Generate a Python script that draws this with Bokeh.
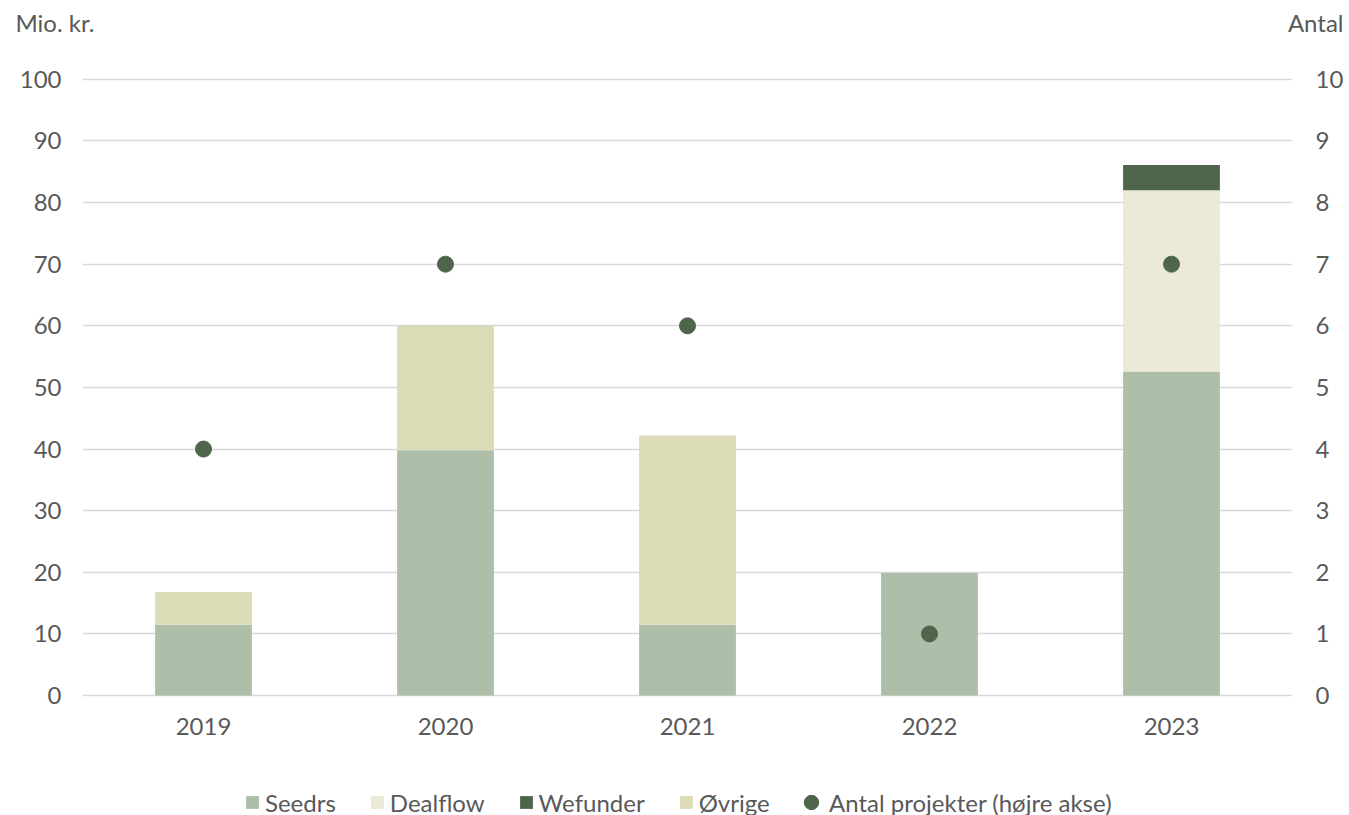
from bokeh.plotting import figure
from bokeh.models import Range1d, LinearAxis, Legend, LegendItem, Label, FactorRange, ColumnDataSource, FixedTicker
from bokeh.embed import file_html
from bokeh.resources import INLINE

years = ["2019", "2020", "2021", "2022", "2023"]
seedrs = [11.5, 39.8, 11.5, 19.9, 52.6]
dealflow = [0, 0, 0, 0, 29.4]
wefunder = [0, 0, 0, 0, 4.1]
ovrige = [5.3, 20.2, 30.7, 0, 0]
projekter = [4, 7, 6, 1, 7]
left_ticks = [0, 10, 20, 30, 40, 50, 60, 70, 80, 90, 100]
right_ticks = [0, 1, 2, 3, 4, 5, 6, 7, 8, 9, 10]

series_names = ["Seedrs", "Dealflow", "Wefunder", "Øvrige"]
colors = ["#adbfa8", "#eaead6", "#4f654b", "#dbdbb7"]
dot_color = "#4f654b"
txt = "#595959"
FONT = "Lato"
FS = "24px"

src = ColumnDataSource(dict(year=years, Seedrs=seedrs, Dealflow=dealflow, Wefunder=wefunder,
                            Øvrige=ovrige, proj=projekter))

# frame extends below the axis so the legend sits inside it
p = figure(frame_width=1210, frame_height=738, x_range=FactorRange(*years, range_padding=0),
           y_range=Range1d(-19.47, 100.3), output_backend="svg", toolbar_location=None,
           min_border_left=82, min_border_right=57, min_border_top=77, min_border_bottom=0)
p.extra_y_ranges = {"antal": Range1d(-1.947, 10.03)}

stack = p.vbar_stack(series_names, x="year", width=0.4, color=colors, source=src, line_width=0)
pts = p.scatter(x="year", y="proj", y_range_name="antal", size=16, color=dot_color, source=src)

right = LinearAxis(y_range_name="antal", ticker=FixedTicker(ticks=right_ticks))
p.add_layout(right, "right")
p.yaxis[0].ticker = FixedTicker(ticks=left_ticks)
p.xaxis.fixed_location = 0

for ax in p.yaxis + p.xaxis:
    ax.axis_line_color = None
    ax.major_tick_line_color = None
    ax.minor_tick_line_color = None
    ax.major_tick_out = 0
    ax.major_tick_in = 0
    ax.major_label_text_font = FONT
    ax.major_label_text_font_size = FS
    ax.major_label_text_color = txt
p.yaxis[0].major_label_standoff = 21
right.major_label_standoff = 23
p.xaxis.major_label_standoff = 22

p.xgrid.grid_line_color = None
p.ygrid.grid_line_color = "#d9d9d9"
p.ygrid.grid_line_width = 1.3
p.outline_line_color = None

common = dict(orientation="horizontal", label_text_font=FONT, label_text_font_size=FS,
              label_text_color=txt, border_line_color=None, background_fill_alpha=0,
              margin=0, padding=0, label_height=36)
legend1 = Legend(items=[LegendItem(label=n, renderers=[r]) for n, r in zip(series_names, stack)],
                 location=(162, -5), glyph_width=16, glyph_height=16, label_standoff=5,
                 spacing=33, **common)
legend2 = Legend(items=[LegendItem(label="Antal projekter (højre akse)", renderers=[pts])],
                 location=(711, -5), glyph_width=36, glyph_height=36, label_standoff=0,
                 **common)
p.add_layout(legend1, "center")
p.add_layout(legend2, "center")

p.add_layout(Label(x=-67, y=55, x_units="screen", y_units="screen", text="Mio. kr.",
                   text_baseline="alphabetic", text_font=FONT, text_font_size=FS, text_color=txt),
             "above")
p.add_layout(Label(x=1261, y=26, x_units="screen", y_units="screen", text="Antal",
                   text_align="right", text_baseline="alphabetic",
                   text_font=FONT, text_font_size=FS, text_color=txt), "above")

open("out.html", "w").write(file_html(p, INLINE))
